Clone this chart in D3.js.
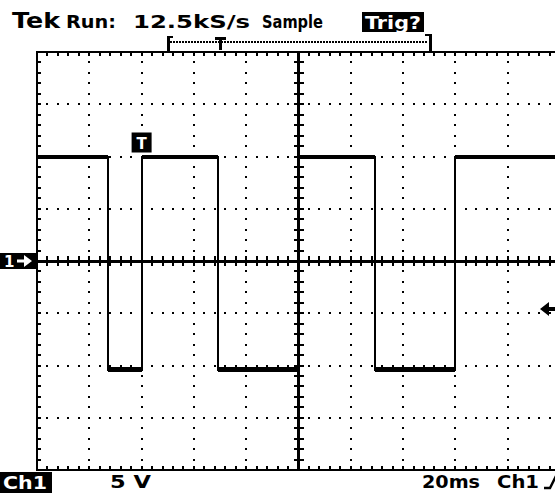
<!DOCTYPE html>
<html>
<head>
<meta charset="utf-8">
<script src="https://cdn.jsdelivr.net/npm/d3@7"></script>
<style>
  html, body { margin: 0; padding: 0; background: #fff; }
  svg { display: block; }
  text { font-family: "DejaVu Sans", sans-serif; font-weight: bold; }
</style>
</head>
<body>
<div id="scope"></div>
<script>
// waveform: step points (time in ms from left edge, volts)
const waveTime = [0, 27.2, 40.0, 69.2, 100.0, 129.3, 159.8, 200];
const waveVolts = [10, -10.4, 10, -10.4, 10, -10.4, 10, 10];

const timeDomain = [0, 200];   // 10 div x 20 ms
const voltDomain = [-20, 20];  // 8 div x 5 V
const trigTime = 40.0;
const trigLevel = -4.6;

const headerLabels = ['Run:', '12.5kS/s', 'Sample'];
const footerLabels = ['5 V', '20ms', 'Ch1'];

const width = 555;
const height = 494;

const svg = d3.select('#scope')
    .append('svg')
    .attr('width', width)
    .attr('height', height);

const x = d3.scaleLinear().domain(timeDomain).range([37, 560]);
const y = d3.scaleLinear().domain(voltDomain).range([470, 52]);

const majorT = d3.range(0, 200.01, 20);
const minorT = d3.range(0, 200.01, 4);
const majorV = d3.range(-20, 20.01, 5);
const minorV = d3.range(-20, 20.01, 1);

const grid = svg.append('g').attr('shape-rendering', 'crispEdges');

// dotted graticule
majorT.slice(1, -1).forEach((t) => {
    if (t === 100) return;
    grid.selectAll(null)
        .data(minorV.slice(1, -1))
        .enter()
        .append('rect')
        .attr('x', x(t) - 1).attr('y', (v) => y(v) - 1)
        .attr('width', 2).attr('height', 2)
        .attr('fill', '#000');
});
majorV.slice(1, -1).forEach((v) => {
    if (v === 0) return;
    grid.selectAll(null)
        .data(minorT.slice(1, -1))
        .enter()
        .append('rect')
        .attr('x', (t) => x(t) - 1).attr('y', y(v) - 1)
        .attr('width', 2).attr('height', 2)
        .attr('fill', '#000');
});

// border
grid.append('rect')
    .attr('x', x(0)).attr('y', y(20))
    .attr('width', x(200) - x(0)).attr('height', y(-20) - y(20))
    .attr('fill', 'none').attr('stroke', '#000').attr('stroke-width', 2);

// border ticks
const tickLen = 4;
grid.selectAll('.tt').data(minorT).enter().append('line')
    .attr('x1', (t) => x(t)).attr('x2', (t) => x(t))
    .attr('y1', y(20)).attr('y2', y(20) + tickLen)
    .attr('stroke', '#000').attr('stroke-width', 2);
grid.selectAll('.bt').data(minorT).enter().append('line')
    .attr('x1', (t) => x(t)).attr('x2', (t) => x(t))
    .attr('y1', y(-20)).attr('y2', y(-20) - tickLen)
    .attr('stroke', '#000').attr('stroke-width', 2);
grid.selectAll('.lt').data(minorV).enter().append('line')
    .attr('x1', x(0)).attr('x2', x(0) + tickLen)
    .attr('y1', (v) => y(v)).attr('y2', (v) => y(v))
    .attr('stroke', '#000').attr('stroke-width', 2);

// center axes with crossing ticks
grid.append('line')
    .attr('x1', x(0)).attr('x2', x(200))
    .attr('y1', y(0)).attr('y2', y(0))
    .attr('stroke', '#000').attr('stroke-width', 3);
grid.append('line')
    .attr('x1', x(100)).attr('x2', x(100))
    .attr('y1', y(20)).attr('y2', y(-20))
    .attr('stroke', '#000').attr('stroke-width', 3);
grid.selectAll('.ht').data(minorT).enter().append('line')
    .attr('x1', (t) => x(t)).attr('x2', (t) => x(t))
    .attr('y1', y(0) - 5).attr('y2', y(0) + 5)
    .attr('stroke', '#000').attr('stroke-width', 2);
grid.selectAll('.vt').data(minorV).enter().append('line')
    .attr('x1', x(100) - 5).attr('x2', x(100) + 5)
    .attr('y1', (v) => y(v)).attr('y2', (v) => y(v))
    .attr('stroke', '#000').attr('stroke-width', 2);

// trace: thin edges, thicker (noisy-looking) levels
const wave = waveTime.map((t, i) => ({ t: t, v: waveVolts[i] }));
const line = d3.line()
    .x((d) => x(d.t))
    .y((d) => y(d.v))
    .curve(d3.curveStepAfter);
svg.append('path')
    .datum(wave)
    .attr('d', line)
    .attr('fill', 'none')
    .attr('stroke', '#000')
    .attr('stroke-width', 2)
    .attr('shape-rendering', 'crispEdges');
svg.selectAll('.lvl')
    .data(wave.slice(0, -1))
    .enter()
    .append('line')
    .attr('x1', (d) => x(d.t))
    .attr('x2', (d, i) => x(wave[i + 1].t))
    .attr('y1', (d) => y(d.v)).attr('y2', (d) => y(d.v))
    .attr('stroke', '#000')
    .attr('stroke-width', (d) => d.v < 0 ? 5 : 4)
    .attr('shape-rendering', 'crispEdges');

// trigger point marker
svg.append('rect')
    .attr('x', x(trigTime) - 10).attr('y', y(10) - 24)
    .attr('width', 20).attr('height', 20).attr('fill', '#000');
svg.append('text')
    .attr('x', x(trigTime)).attr('y', y(10) - 8)
    .attr('text-anchor', 'middle').attr('font-size', 15)
    .attr('fill', '#fff').text('T');

// trigger level arrow on right
const ay = y(trigLevel);
svg.append('path')
    .attr('d', `M540,${ay} L549,${ay - 7} L549,${ay - 2} L556,${ay - 2} L556,${ay + 2} L549,${ay + 2} L549,${ay + 7} Z`)
    .attr('fill', '#000');

// channel 1 ground marker
const gy = y(0);
svg.append('rect')
    .attr('x', 0).attr('y', gy - 8)
    .attr('width', 36).attr('height', 16).attr('fill', '#000');
svg.append('text')
    .attr('x', 4).attr('y', gy + 6)
    .attr('font-size', 15).attr('fill', '#fff').text('1');
svg.append('path')
    .attr('d', `M17,${gy - 1.5} L24,${gy - 1.5} L24,${gy - 6} L32,${gy} L24,${gy + 6} L24,${gy + 1.5} L17,${gy + 1.5} Z`)
    .attr('fill', '#fff');

// header
svg.append('text')
    .attr('x', 12).attr('y', 28)
    .attr('font-family', '"DejaVu Serif", serif')
    .attr('font-size', 21)
    .attr('textLength', 48).attr('lengthAdjust', 'spacingAndGlyphs')
    .text('Tek');
const headerPos = [[66, 50], [133, 117], [262, 61]];
headerLabels.forEach((s, i) => {
    svg.append('text')
        .attr('x', headerPos[i][0]).attr('y', 28)
        .attr('font-size', 18)
        .attr('textLength', headerPos[i][1]).attr('lengthAdjust', 'spacingAndGlyphs')
        .text(s);
});
svg.append('rect')
    .attr('x', 362).attr('y', 12).attr('width', 62).attr('height', 20)
    .attr('fill', '#000');
svg.append('text')
    .attr('x', 365).attr('y', 29)
    .attr('font-size', 17).attr('fill', '#fff')
    .attr('textLength', 56).attr('lengthAdjust', 'spacingAndGlyphs')
    .text('Trig?');

// record bracket
const br = svg.append('g').attr('shape-rendering', 'crispEdges');
br.append('line').attr('x1', 168).attr('x2', 168).attr('y1', 36).attr('y2', 52)
    .attr('stroke', '#000').attr('stroke-width', 3);
br.append('line').attr('x1', 168).attr('x2', 173).attr('y1', 37).attr('y2', 37)
    .attr('stroke', '#000').attr('stroke-width', 2);
br.append('line').attr('x1', 430).attr('x2', 430).attr('y1', 34).attr('y2', 52)
    .attr('stroke', '#000').attr('stroke-width', 3);
br.append('line').attr('x1', 425).attr('x2', 430).attr('y1', 35).attr('y2', 35)
    .attr('stroke', '#000').attr('stroke-width', 2);
br.append('line').attr('x1', 170).attr('x2', 428).attr('y1', 42).attr('y2', 42)
    .attr('stroke', '#000').attr('stroke-width', 1.5)
    .attr('stroke-dasharray', '1.5,1.5');
br.append('line').attr('x1', 215).attr('x2', 226).attr('y1', 38).attr('y2', 38)
    .attr('stroke', '#000').attr('stroke-width', 3);
br.append('line').attr('x1', 220.5).attr('x2', 220.5).attr('y1', 38).attr('y2', 50)
    .attr('stroke', '#000').attr('stroke-width', 3);

// footer
svg.append('rect')
    .attr('x', 0).attr('y', 472).attr('width', 52).attr('height', 21)
    .attr('fill', '#000');
svg.append('text')
    .attr('x', 3).attr('y', 489)
    .attr('font-size', 17).attr('fill', '#fff')
    .attr('textLength', 44).attr('lengthAdjust', 'spacingAndGlyphs')
    .text('Ch1');
const footerPos = [[110, 41], [422, 58], [497, 42]];
footerLabels.forEach((s, i) => {
    svg.append('text')
        .attr('x', footerPos[i][0]).attr('y', 488)
        .attr('font-size', 17)
        .attr('textLength', footerPos[i][1]).attr('lengthAdjust', 'spacingAndGlyphs')
        .text(s);
});
// rising slope symbol
svg.append('path')
    .attr('d', 'M544,488 L550,488 L556,476')
    .attr('fill', 'none').attr('stroke', '#000').attr('stroke-width', 2.5);
</script>
</body>
</html>
